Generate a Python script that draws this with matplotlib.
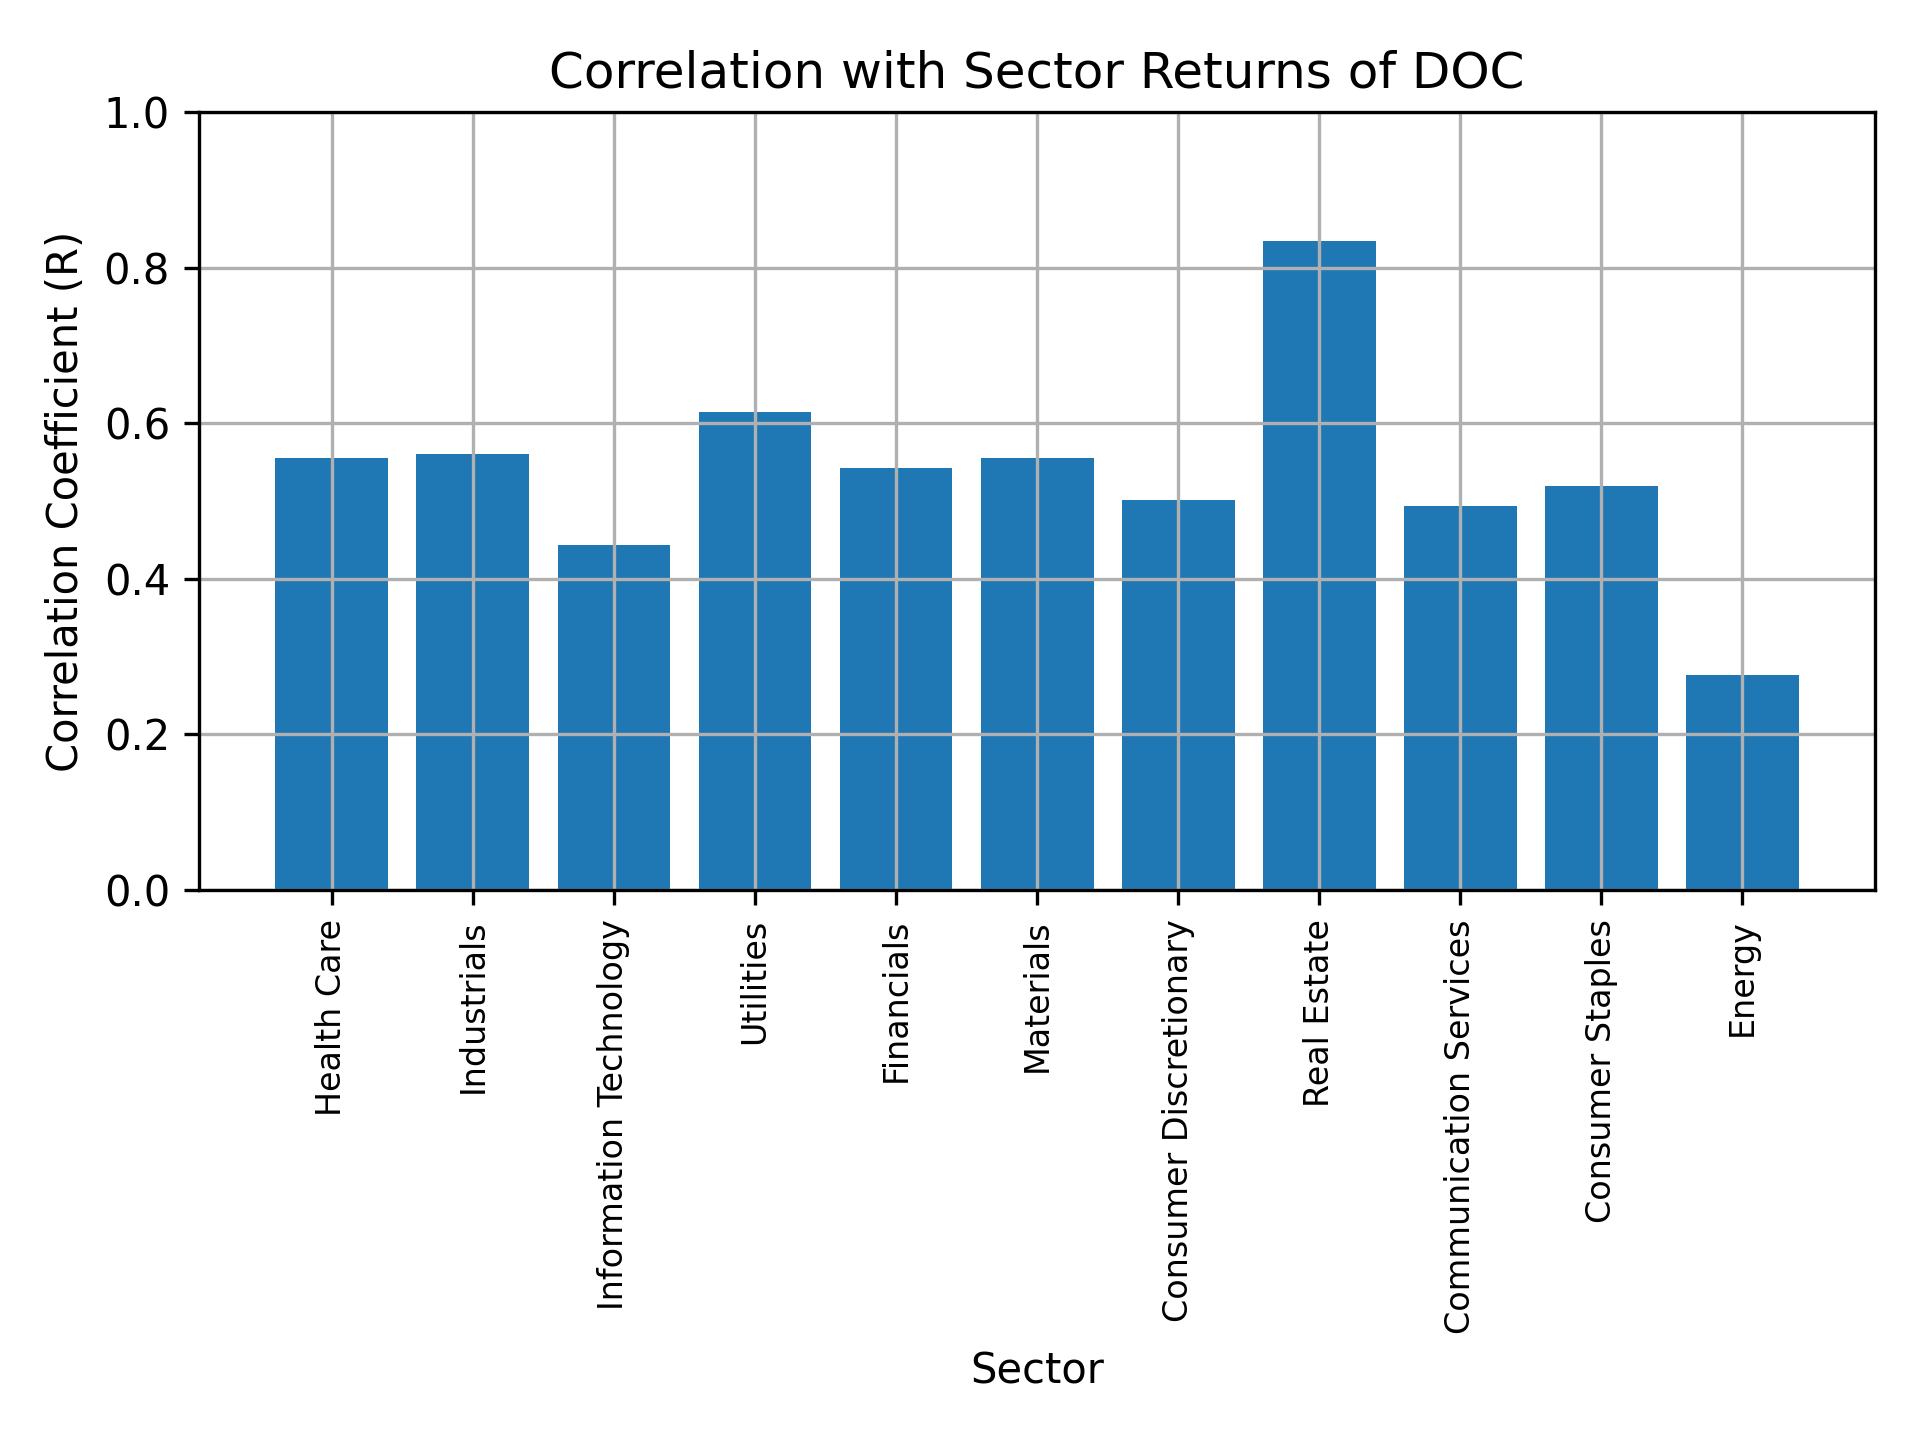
import matplotlib
matplotlib.use("Agg")
import matplotlib.pyplot as plt

sectors = ["Health Care", "Industrials", "Information Technology", "Utilities",
           "Financials", "Materials", "Consumer Discretionary", "Real Estate",
           "Communication Services", "Consumer Staples", "Energy"]
correlations = [0.556, 0.561, 0.443, 0.614, 0.542, 0.556, 0.502, 0.835, 0.494, 0.520, 0.277]

fig, ax = plt.subplots(figsize=(6.4, 4.8), dpi=300)
ax.bar(sectors, correlations, color="#1f77b4")
ax.set_title("Correlation with Sector Returns of DOC")
ax.set_xlabel("Sector")
ax.set_ylabel("Correlation Coefficient (R)")
ax.set_ylim(0, 1)
ax.grid(True)
plt.xticks(rotation=90, fontsize=8)
plt.tight_layout()
fig.subplots_adjust(top=0.922, bottom=0.382)
plt.savefig("out.png")
plt.close()
